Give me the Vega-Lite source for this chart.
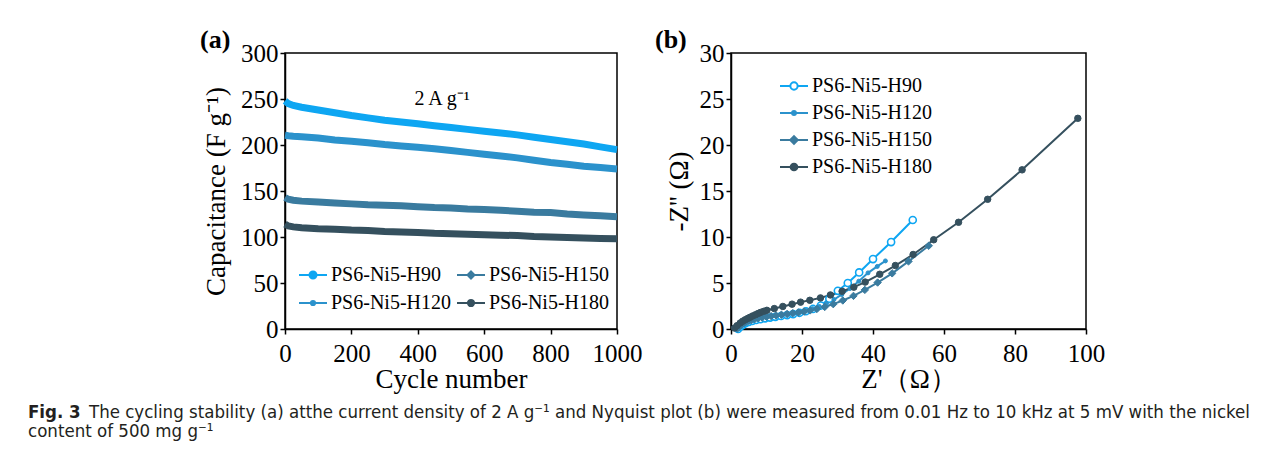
{
  "$schema": "https://vega.github.io/schema/vega-lite/v6.json",
  "padding": {"left": 28, "top": 26, "right": 0, "bottom": 0},
  "background": "white",
  "config": {
    "view": {"stroke": "black", "strokeWidth": 1.5},
    "axis": {"domainColor": "black", "domainWidth": 1.5, "tickColor": "black", "tickWidth": 1.5, "tickSize": 5, "labelFont": "Liberation Serif", "labelFontSize": 25, "labelColor": "black", "labelPadding": 2, "titleFont": "Liberation Serif", "titleFontSize": 27, "titleFontWeight": "normal", "titleColor": "black", "grid": false, "labelFlush": false, "labelOverlap": false},
    "axisX": {"labelPadding": 7, "format": "d"},
    "legend": {"labelFont": "Liberation Serif", "labelFontSize": 20, "labelColor": "black", "symbolSize": 784, "symbolStrokeWidth": 2, "symbolOpacity": 1, "labelOffset": 3, "rowPadding": 2, "padding": 0, "title": null}
  },
  "datasets": {
    "cyc": [
      {"s":"PS6-Ni5-H90","c":0,"v":248},{"s":"PS6-Ni5-H90","c":10,"v":245},{"s":"PS6-Ni5-H90","c":25,"v":243},{"s":"PS6-Ni5-H90","c":50,"v":241},{"s":"PS6-Ni5-H90","c":100,"v":238},{"s":"PS6-Ni5-H90","c":150,"v":235},{"s":"PS6-Ni5-H90","c":200,"v":232},{"s":"PS6-Ni5-H90","c":250,"v":229.5},{"s":"PS6-Ni5-H90","c":300,"v":227},{"s":"PS6-Ni5-H90","c":350,"v":225},{"s":"PS6-Ni5-H90","c":400,"v":223},{"s":"PS6-Ni5-H90","c":450,"v":221},{"s":"PS6-Ni5-H90","c":500,"v":219},{"s":"PS6-Ni5-H90","c":550,"v":217},{"s":"PS6-Ni5-H90","c":600,"v":215},{"s":"PS6-Ni5-H90","c":650,"v":213},{"s":"PS6-Ni5-H90","c":700,"v":211},{"s":"PS6-Ni5-H90","c":750,"v":208.5},{"s":"PS6-Ni5-H90","c":800,"v":206},{"s":"PS6-Ni5-H90","c":850,"v":203.5},{"s":"PS6-Ni5-H90","c":900,"v":201},{"s":"PS6-Ni5-H90","c":950,"v":198},{"s":"PS6-Ni5-H90","c":1000,"v":195},
      {"s":"PS6-Ni5-H120","c":0,"v":210.5},{"s":"PS6-Ni5-H120","c":10,"v":210},{"s":"PS6-Ni5-H120","c":25,"v":209.5},{"s":"PS6-Ni5-H120","c":50,"v":209},{"s":"PS6-Ni5-H120","c":100,"v":207.5},{"s":"PS6-Ni5-H120","c":150,"v":205.5},{"s":"PS6-Ni5-H120","c":200,"v":204},{"s":"PS6-Ni5-H120","c":250,"v":202.5},{"s":"PS6-Ni5-H120","c":300,"v":200.5},{"s":"PS6-Ni5-H120","c":350,"v":199},{"s":"PS6-Ni5-H120","c":400,"v":197.5},{"s":"PS6-Ni5-H120","c":450,"v":196},{"s":"PS6-Ni5-H120","c":500,"v":194},{"s":"PS6-Ni5-H120","c":550,"v":192},{"s":"PS6-Ni5-H120","c":600,"v":190},{"s":"PS6-Ni5-H120","c":650,"v":188},{"s":"PS6-Ni5-H120","c":700,"v":186},{"s":"PS6-Ni5-H120","c":750,"v":183.5},{"s":"PS6-Ni5-H120","c":800,"v":181},{"s":"PS6-Ni5-H120","c":850,"v":179},{"s":"PS6-Ni5-H120","c":900,"v":177},{"s":"PS6-Ni5-H120","c":950,"v":175.5},{"s":"PS6-Ni5-H120","c":1000,"v":174},
      {"s":"PS6-Ni5-H150","c":0,"v":143},{"s":"PS6-Ni5-H150","c":10,"v":141},{"s":"PS6-Ni5-H150","c":25,"v":140},{"s":"PS6-Ni5-H150","c":50,"v":139},{"s":"PS6-Ni5-H150","c":100,"v":138},{"s":"PS6-Ni5-H150","c":150,"v":137},{"s":"PS6-Ni5-H150","c":200,"v":136},{"s":"PS6-Ni5-H150","c":250,"v":135},{"s":"PS6-Ni5-H150","c":300,"v":134.5},{"s":"PS6-Ni5-H150","c":350,"v":134},{"s":"PS6-Ni5-H150","c":400,"v":133},{"s":"PS6-Ni5-H150","c":450,"v":132},{"s":"PS6-Ni5-H150","c":500,"v":131.5},{"s":"PS6-Ni5-H150","c":550,"v":130.5},{"s":"PS6-Ni5-H150","c":600,"v":130},{"s":"PS6-Ni5-H150","c":650,"v":129},{"s":"PS6-Ni5-H150","c":700,"v":128},{"s":"PS6-Ni5-H150","c":750,"v":127},{"s":"PS6-Ni5-H150","c":800,"v":126.5},{"s":"PS6-Ni5-H150","c":850,"v":125},{"s":"PS6-Ni5-H150","c":900,"v":124},{"s":"PS6-Ni5-H150","c":950,"v":123},{"s":"PS6-Ni5-H150","c":1000,"v":122},
      {"s":"PS6-Ni5-H180","c":0,"v":114},{"s":"PS6-Ni5-H180","c":10,"v":112},{"s":"PS6-Ni5-H180","c":25,"v":111},{"s":"PS6-Ni5-H180","c":50,"v":110},{"s":"PS6-Ni5-H180","c":100,"v":109},{"s":"PS6-Ni5-H180","c":150,"v":108.5},{"s":"PS6-Ni5-H180","c":200,"v":107.5},{"s":"PS6-Ni5-H180","c":250,"v":107},{"s":"PS6-Ni5-H180","c":300,"v":106},{"s":"PS6-Ni5-H180","c":350,"v":105.5},{"s":"PS6-Ni5-H180","c":400,"v":105},{"s":"PS6-Ni5-H180","c":450,"v":104},{"s":"PS6-Ni5-H180","c":500,"v":103.5},{"s":"PS6-Ni5-H180","c":550,"v":103},{"s":"PS6-Ni5-H180","c":600,"v":102.5},{"s":"PS6-Ni5-H180","c":650,"v":102},{"s":"PS6-Ni5-H180","c":700,"v":101.5},{"s":"PS6-Ni5-H180","c":750,"v":100.5},{"s":"PS6-Ni5-H180","c":800,"v":100},{"s":"PS6-Ni5-H180","c":850,"v":99.5},{"s":"PS6-Ni5-H180","c":900,"v":99},{"s":"PS6-Ni5-H180","c":950,"v":98.5},{"s":"PS6-Ni5-H180","c":1000,"v":98}
    ],
    "eis": [
      {"s":"PS6-Ni5-H90","x":2.0,"y":0.0},{"s":"PS6-Ni5-H90","x":2.6,"y":0.25},{"s":"PS6-Ni5-H90","x":3.3,"y":0.45},{"s":"PS6-Ni5-H90","x":4.1,"y":0.62},{"s":"PS6-Ni5-H90","x":5.0,"y":0.76},{"s":"PS6-Ni5-H90","x":6.0,"y":0.88},{"s":"PS6-Ni5-H90","x":7.1,"y":0.98},{"s":"PS6-Ni5-H90","x":8.3,"y":1.07},{"s":"PS6-Ni5-H90","x":9.6,"y":1.16},{"s":"PS6-Ni5-H90","x":11.0,"y":1.24},{"s":"PS6-Ni5-H90","x":12.5,"y":1.32},{"s":"PS6-Ni5-H90","x":14.1,"y":1.41},{"s":"PS6-Ni5-H90","x":15.8,"y":1.51},{"s":"PS6-Ni5-H90","x":17.5,"y":1.62},{"s":"PS6-Ni5-H90","x":19.3,"y":1.76},{"s":"PS6-Ni5-H90","x":21.1,"y":1.93},{"s":"PS6-Ni5-H90","x":23.1,"y":2.18},{"s":"PS6-Ni5-H90","x":25.3,"y":2.55},{"s":"PS6-Ni5-H90","x":27.7,"y":3.3},{"s":"PS6-Ni5-H90","x":30.1,"y":4.15},{"s":"PS6-Ni5-H90","x":32.9,"y":5.0},{"s":"PS6-Ni5-H90","x":36.1,"y":6.15},{"s":"PS6-Ni5-H90","x":40.0,"y":7.6},{"s":"PS6-Ni5-H90","x":45.1,"y":9.45},{"s":"PS6-Ni5-H90","x":51.2,"y":11.85},
      {"s":"PS6-Ni5-H120","x":1.8,"y":0.05},{"s":"PS6-Ni5-H120","x":2.4,"y":0.3},{"s":"PS6-Ni5-H120","x":3.0,"y":0.5},{"s":"PS6-Ni5-H120","x":3.7,"y":0.65},{"s":"PS6-Ni5-H120","x":4.5,"y":0.78},{"s":"PS6-Ni5-H120","x":5.4,"y":0.9},{"s":"PS6-Ni5-H120","x":6.4,"y":1.0},{"s":"PS6-Ni5-H120","x":7.5,"y":1.1},{"s":"PS6-Ni5-H120","x":8.7,"y":1.2},{"s":"PS6-Ni5-H120","x":10.0,"y":1.28},{"s":"PS6-Ni5-H120","x":11.4,"y":1.36},{"s":"PS6-Ni5-H120","x":12.9,"y":1.44},{"s":"PS6-Ni5-H120","x":14.5,"y":1.52},{"s":"PS6-Ni5-H120","x":16.1,"y":1.62},{"s":"PS6-Ni5-H120","x":17.8,"y":1.73},{"s":"PS6-Ni5-H120","x":19.5,"y":1.85},{"s":"PS6-Ni5-H120","x":21.2,"y":2.0},{"s":"PS6-Ni5-H120","x":23.0,"y":2.2},{"s":"PS6-Ni5-H120","x":24.9,"y":2.45},{"s":"PS6-Ni5-H120","x":26.9,"y":2.78},{"s":"PS6-Ni5-H120","x":29.0,"y":3.2},{"s":"PS6-Ni5-H120","x":31.2,"y":3.75},{"s":"PS6-Ni5-H120","x":33.5,"y":4.4},{"s":"PS6-Ni5-H120","x":36.0,"y":5.2},{"s":"PS6-Ni5-H120","x":38.6,"y":6.1},{"s":"PS6-Ni5-H120","x":41.2,"y":6.8},{"s":"PS6-Ni5-H120","x":43.5,"y":7.4},
      {"s":"PS6-Ni5-H150","x":1.8,"y":0.05},{"s":"PS6-Ni5-H150","x":2.3,"y":0.25},{"s":"PS6-Ni5-H150","x":2.9,"y":0.45},{"s":"PS6-Ni5-H150","x":3.5,"y":0.6},{"s":"PS6-Ni5-H150","x":4.2,"y":0.75},{"s":"PS6-Ni5-H150","x":5.0,"y":0.88},{"s":"PS6-Ni5-H150","x":5.8,"y":0.98},{"s":"PS6-Ni5-H150","x":6.7,"y":1.08},{"s":"PS6-Ni5-H150","x":7.7,"y":1.17},{"s":"PS6-Ni5-H150","x":8.8,"y":1.25},{"s":"PS6-Ni5-H150","x":10.0,"y":1.33},{"s":"PS6-Ni5-H150","x":11.3,"y":1.4},{"s":"PS6-Ni5-H150","x":12.7,"y":1.47},{"s":"PS6-Ni5-H150","x":14.2,"y":1.55},{"s":"PS6-Ni5-H150","x":15.8,"y":1.63},{"s":"PS6-Ni5-H150","x":17.4,"y":1.72},{"s":"PS6-Ni5-H150","x":19.0,"y":1.8},{"s":"PS6-Ni5-H150","x":20.6,"y":1.9},{"s":"PS6-Ni5-H150","x":22.3,"y":2.02},{"s":"PS6-Ni5-H150","x":24.2,"y":2.18},{"s":"PS6-Ni5-H150","x":26.4,"y":2.4},{"s":"PS6-Ni5-H150","x":28.8,"y":2.7},{"s":"PS6-Ni5-H150","x":31.5,"y":3.1},{"s":"PS6-Ni5-H150","x":34.5,"y":3.6},{"s":"PS6-Ni5-H150","x":37.7,"y":4.25},{"s":"PS6-Ni5-H150","x":41.3,"y":5.05},{"s":"PS6-Ni5-H150","x":45.4,"y":6.05},{"s":"PS6-Ni5-H150","x":50.0,"y":7.35},{"s":"PS6-Ni5-H150","x":55.7,"y":9.05},
      {"s":"PS6-Ni5-H180","x":1.0,"y":0.1},{"s":"PS6-Ni5-H180","x":1.7,"y":0.36},{"s":"PS6-Ni5-H180","x":2.6,"y":0.65},{"s":"PS6-Ni5-H180","x":3.3,"y":0.85},{"s":"PS6-Ni5-H180","x":4.0,"y":1.0},{"s":"PS6-Ni5-H180","x":4.7,"y":1.15},{"s":"PS6-Ni5-H180","x":5.4,"y":1.28},{"s":"PS6-Ni5-H180","x":6.1,"y":1.42},{"s":"PS6-Ni5-H180","x":6.9,"y":1.55},{"s":"PS6-Ni5-H180","x":7.6,"y":1.68},{"s":"PS6-Ni5-H180","x":8.3,"y":1.8},{"s":"PS6-Ni5-H180","x":9.2,"y":1.92},{"s":"PS6-Ni5-H180","x":10.1,"y":2.03},{"s":"PS6-Ni5-H180","x":12.2,"y":2.22},{"s":"PS6-Ni5-H180","x":14.6,"y":2.45},{"s":"PS6-Ni5-H180","x":17.2,"y":2.7},{"s":"PS6-Ni5-H180","x":19.6,"y":2.92},{"s":"PS6-Ni5-H180","x":22.2,"y":3.12},{"s":"PS6-Ni5-H180","x":25.2,"y":3.38},{"s":"PS6-Ni5-H180","x":28.0,"y":3.7},{"s":"PS6-Ni5-H180","x":31.3,"y":4.1},{"s":"PS6-Ni5-H180","x":34.6,"y":4.55},{"s":"PS6-Ni5-H180","x":37.8,"y":5.1},{"s":"PS6-Ni5-H180","x":41.9,"y":5.95},{"s":"PS6-Ni5-H180","x":46.3,"y":6.9},{"s":"PS6-Ni5-H180","x":51.3,"y":8.1},{"s":"PS6-Ni5-H180","x":57.1,"y":9.7},{"s":"PS6-Ni5-H180","x":64.1,"y":11.6},{"s":"PS6-Ni5-H180","x":72.3,"y":14.1},{"s":"PS6-Ni5-H180","x":82.0,"y":17.3},{"s":"PS6-Ni5-H180","x":97.7,"y":22.9}
    ],
    "ann": [{"c": 473, "v": 250, "t": "2 A g⁻¹"}]
  },
  "title": {
    "text": "Fig. 3",
    "subtitle": ["\u2800\u2800\u2800\u2800\u2800The cycling stability (a) atthe current density of 2 A g⁻¹ and Nyquist plot (b) were measured from 0.01 Hz to 10 kHz at 5 mV with the nickel", "content of 500 mg g⁻¹"],
    "orient": "bottom", "anchor": "start", "frame": "group", "dx": -257, "offset": 10,
    "font": "DejaVu Sans Condensed", "fontSize": 18.5, "fontWeight": "bold", "color": "#231f20",
    "subtitleFont": "DejaVu Sans Condensed", "subtitleFontSize": 18.5, "subtitleColor": "#231f20", "subtitleLineHeight": 19, "subtitlePadding": -18.5
  },
  "bounds": "flush",
  "spacing": 114,
  "resolve": {"scale": {"stroke": "independent", "fill": "independent", "shape": "independent"}, "legend": {"stroke": "independent", "fill": "independent", "shape": "independent"}},
  "hconcat": [
    {
      "width": 332, "height": 276,
      "title": {"text": "(a)", "anchor": "start", "frame": "group", "dx": -85, "font": "Liberation Serif", "fontSize": 26, "fontWeight": "bold", "color": "black", "offset": -12},
      "layer": [
        {
          "data": {"name": "cyc"},
          "mark": {"type": "line", "strokeWidth": 7},
          "encoding": {
            "x": {"field": "c", "type": "quantitative", "scale": {"domain": [0, 1000], "nice": false}, "axis": {"values": [0, 200, 400, 600, 800, 1000], "title": "Cycle number", "titlePadding": 0}},
            "y": {"field": "v", "type": "quantitative", "scale": {"domain": [0, 300], "nice": false}, "axis": {"values": [0, 50, 100, 150, 200, 250, 300], "title": "Capacitance (F g⁻¹)", "titlePadding": 10}},
            "stroke": {"field": "s", "type": "nominal", "scale": {"domain": ["PS6-Ni5-H90", "PS6-Ni5-H120", "PS6-Ni5-H150", "PS6-Ni5-H180"], "range": ["#0ea6f2", "#2b92cc", "#3a7b9f", "#35505e"]}, "legend": {"orient": "none", "legendX": 13, "legendY": 207, "columns": 2, "columnPadding": 1, "rowPadding": 3}}
          }
        },
        {
          "data": {"name": "cyc"},
          "transform": [{"filter": "datum.c < 0"}],
          "mark": {"type": "point", "filled": true, "opacity": 1},
          "encoding": {
            "x": {"field": "c", "type": "quantitative"},
            "y": {"field": "v", "type": "quantitative"},
            "stroke": {"field": "s", "type": "nominal", "scale": {"domain": ["PS6-Ni5-H90", "PS6-Ni5-H120", "PS6-Ni5-H150", "PS6-Ni5-H180"], "range": ["#0ea6f2", "#2b92cc", "#3a7b9f", "#35505e"]}},
            "fill": {"field": "s", "type": "nominal", "scale": {"domain": ["PS6-Ni5-H90", "PS6-Ni5-H120", "PS6-Ni5-H150", "PS6-Ni5-H180"], "range": ["#0ea6f2", "#2b92cc", "#3a7b9f", "#35505e"]}},
            "shape": {"field": "s", "type": "nominal", "scale": {"domain": ["PS6-Ni5-H90", "PS6-Ni5-H120", "PS6-Ni5-H150", "PS6-Ni5-H180"], "range": ["M-1,0L1,0M-0.25,0A0.25,0.25,0,1,1,0.25,0A0.25,0.25,0,1,1,-0.25,0Z", "M-1,0L1,0M-0.15,0A0.15,0.15,0,1,1,0.15,0A0.15,0.15,0,1,1,-0.15,0Z", "M-1,0L1,0M0,-0.25L0.25,0L0,0.25L-0.25,0Z", "M-1,0L1,0M-0.22,0A0.22,0.22,0,1,1,0.22,0A0.22,0.22,0,1,1,-0.22,0Z"]}}
          }
        },
        {
          "data": {"name": "ann"},
          "mark": {"type": "text", "font": "Liberation Serif", "fontSize": 20, "color": "black"},
          "encoding": {
            "x": {"field": "c", "type": "quantitative"},
            "y": {"field": "v", "type": "quantitative"},
            "text": {"field": "t", "type": "nominal"}
          }
        }
      ]
    },
    {
      "width": 355, "height": 276,
      "title": {"text": "(b)", "anchor": "start", "frame": "group", "dx": -76, "font": "Liberation Serif", "fontSize": 26, "fontWeight": "bold", "color": "black", "offset": -12},
      "encoding": {
        "x": {"field": "x", "type": "quantitative", "scale": {"domain": [0, 100], "nice": false}, "axis": {"values": [0, 20, 40, 60, 80, 100], "title": "Z'（Ω）", "titlePadding": 0}},
        "y": {"field": "y", "type": "quantitative", "scale": {"domain": [0, 30], "nice": false}, "axis": {"values": [0, 5, 10, 15, 20, 25, 30], "title": "-Z'' (Ω)", "titlePadding": 6}},
        "stroke": {"field": "s", "type": "nominal", "scale": {"domain": ["PS6-Ni5-H90", "PS6-Ni5-H120", "PS6-Ni5-H150", "PS6-Ni5-H180"], "range": ["#0ea6f2", "#2b92cc", "#3a7b9f", "#35505e"]}, "legend": {"orient": "none", "legendX": 48, "legendY": 18}},
        "fill": {"field": "s", "type": "nominal", "scale": {"domain": ["PS6-Ni5-H90", "PS6-Ni5-H120", "PS6-Ni5-H150", "PS6-Ni5-H180"], "range": ["#ffffff", "#2b92cc", "#3a7b9f", "#35505e"]}}
      },
      "layer": [
        {"data": {"name": "eis"}, "mark": {"type": "line", "strokeWidth": 2}, "encoding": {"fill": {"value": null}}},
        {"data": {"name": "eis"}, "transform": [{"filter": "datum.s == 'PS6-Ni5-H90'"}], "mark": {"type": "point", "filled": true, "opacity": 1, "shape": "circle", "size": 50, "strokeWidth": 1.6}},
        {"data": {"name": "eis"}, "transform": [{"filter": "datum.s == 'PS6-Ni5-H120'"}], "mark": {"type": "point", "filled": true, "opacity": 1, "shape": "circle", "size": 16, "strokeWidth": 1}},
        {"data": {"name": "eis"}, "transform": [{"filter": "datum.s == 'PS6-Ni5-H150'"}], "mark": {"type": "point", "filled": true, "opacity": 1, "shape": "diamond", "size": 55, "strokeWidth": 1}},
        {"data": {"name": "eis"}, "transform": [{"filter": "datum.s == 'PS6-Ni5-H180'"}], "mark": {"type": "point", "filled": true, "opacity": 1, "shape": "circle", "size": 42, "strokeWidth": 1}},
        {
          "data": {"name": "eis"},
          "transform": [{"filter": "datum.x < 0"}],
          "mark": {"type": "point", "filled": true, "opacity": 1},
          "encoding": {
            "shape": {"field": "s", "type": "nominal", "scale": {"domain": ["PS6-Ni5-H90", "PS6-Ni5-H120", "PS6-Ni5-H150", "PS6-Ni5-H180"], "range": ["M-1,0L-0.26,0M0.26,0L1,0M-0.26,0A0.26,0.26,0,1,1,0.26,0A0.26,0.26,0,1,1,-0.26,0Z", "M-1,0L1,0M-0.14,0A0.14,0.14,0,1,1,0.14,0A0.14,0.14,0,1,1,-0.14,0Z", "M-1,0L1,0M0,-0.27L0.27,0L0,0.27L-0.27,0Z", "M-1,0L1,0M-0.24,0A0.24,0.24,0,1,1,0.24,0A0.24,0.24,0,1,1,-0.24,0Z"]}}
          }
        }
      ]
    }
  ]
}
